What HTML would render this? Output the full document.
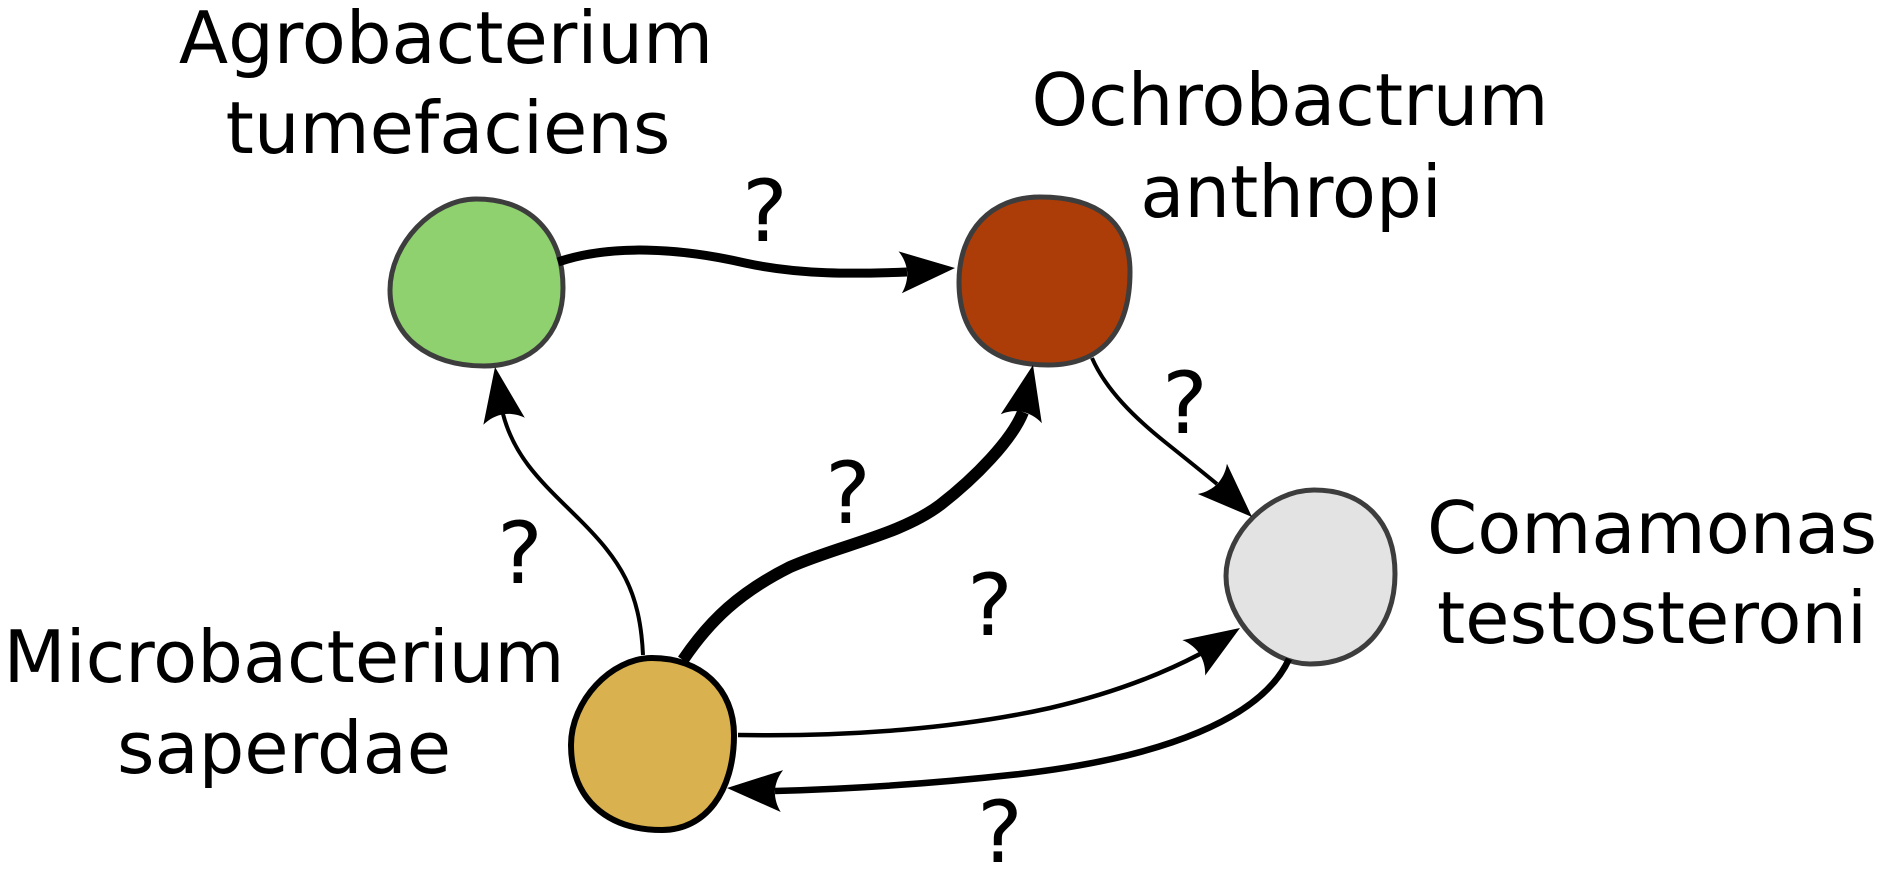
<!DOCTYPE html>
<html>
<head>
<meta charset="utf-8">
<style>
  html, body { margin: 0; padding: 0; background: #ffffff; }
  svg { display: block; }
  text { font-family: "DejaVu Sans", "Liberation Sans", sans-serif; fill: #000; }
</style>
</head>
<body>
<svg width="1886" height="869" viewBox="0 0 1886 869" xmlns="http://www.w3.org/2000/svg">
  <rect x="0" y="0" width="1886" height="869" fill="#ffffff"/>

  <!-- Nodes -->
  <path d="M476,199 C530,199 563,233 563,288 C563,335 531,366 484,366 C428,366 390,336 390,290 C390,244 433,199 476,199 Z"
        fill="#8fd06f" stroke="#3d3d3d" stroke-width="5"/>
  <path d="M1040,197 C1099,197 1130,223 1130,272 C1130,332 1101,365 1048,365 C990,365 959,336 959,282 C959,231 991,197 1040,197 Z"
        fill="#ad3d08" stroke="#3d3d3d" stroke-width="5"/>
  <path d="M1314,490 C1364,490 1395,522 1395,574 C1395,628 1361,664 1310,664 C1268,664 1226,620 1226,576 C1226,533 1270,490 1314,490 Z"
        fill="#e3e3e3" stroke="#3d3d3d" stroke-width="5"/>
  <path d="M652,658 C701,658 734,689 734,735 C734,792 705,830 662,830 C606,830 571,798 571,745 C571,701 611,658 652,658 Z"
        fill="#d9b14e" stroke="#000000" stroke-width="6"/>

  <!-- Edges -->
  <g fill="none" stroke="#000" stroke-linecap="butt">
    <!-- A: green -> red -->
    <path d="M558,262 C610,244 680,248 745,263 C800,275 855,274 907,272" stroke-width="9"/>
    <!-- B: red -> grey -->
    <path d="M1092,358 C1106,390 1135,418 1165,442 C1185,458 1200,470 1217,484" stroke-width="4"/>
    <!-- C: yellow -> green -->
    <path d="M643,655 C640,590 620,560 580,520 C545,485 515,460 503,414" stroke-width="4"/>
    <!-- D: yellow -> red (thick) -->
    <path d="M683,660 C710,620 740,592 790,567 C840,545 900,535 940,505 C975,478 1012,440 1023,412" stroke-width="12"/>
    <!-- E: yellow -> grey -->
    <path d="M738,735 C850,737 960,728 1050,708 C1110,694 1160,675 1200,654" stroke-width="4.5"/>
    <!-- F: grey -> yellow -->
    <path d="M1289,659 C1262,718 1165,757 1020,774 C930,784 850,789 775,791" stroke-width="6.5"/>
  </g>

  <!-- Arrowheads -->
  <g fill="#000">
    <path transform="translate(955,268) rotate(-4.5)" d="M0,0 L-55,-21 C-50,-14 -48,-6 -48,0 C-48,6 -50,14 -55,21 Z"/>
    <path transform="translate(1252,517) rotate(43.9)" d="M0,0 L-55,-21 C-50,-14 -48,-6 -48,0 C-48,6 -50,14 -55,21 Z"/>
    <path transform="translate(495,367) rotate(-99.5)" d="M0,0 L-55,-21 C-50,-14 -48,-6 -48,0 C-48,6 -50,14 -55,21 Z"/>
    <path transform="translate(1033,365) rotate(-77.7)" d="M0,0 L-55,-21 C-50,-14 -48,-6 -48,0 C-48,6 -50,14 -55,21 Z"/>
    <path transform="translate(1240,628) rotate(-32.8)" d="M0,0 L-55,-21 C-50,-14 -48,-6 -48,0 C-48,6 -50,14 -55,21 Z"/>
    <path transform="translate(727,788) rotate(183.2)" d="M0,0 L-55,-21 C-50,-14 -48,-6 -48,0 C-48,6 -50,14 -55,21 Z"/>
  </g>

  <!-- Labels -->
  <g font-size="72" text-anchor="middle">
    <text x="446" y="63">Agrobacterium</text>
    <text x="448" y="153">tumefaciens</text>
    <text x="1290" y="125">Ochrobactrum</text>
    <text x="1291" y="217">anthropi</text>
    <text x="1652" y="553">Comamonas</text>
    <text x="1652" y="643">testosteroni</text>
    <text x="284" y="682">Microbacterium</text>
    <text x="284" y="773">saperdae</text>
  </g>

  <!-- Question marks -->
  <g font-size="86" text-anchor="middle">
    <text x="765" y="241">?</text>
    <text x="1185" y="433">?</text>
    <text x="520" y="583">?</text>
    <text x="848" y="523">?</text>
    <text x="990" y="635">?</text>
    <text x="1000" y="862">?</text>
  </g>
</svg>
</body>
</html>
